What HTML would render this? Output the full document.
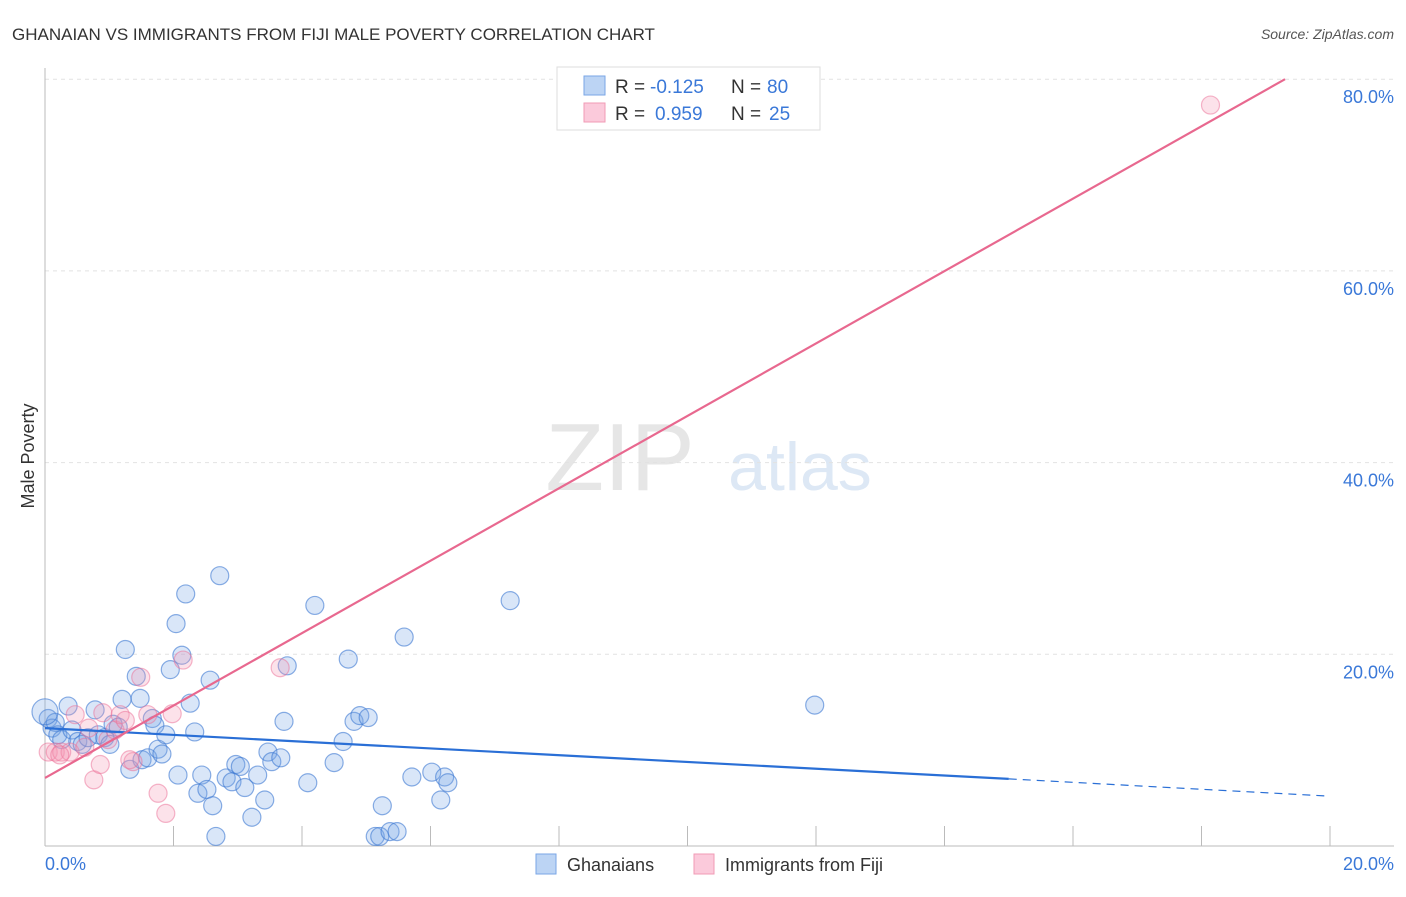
<!DOCTYPE html>
<html><head><meta charset="utf-8"><style>
body{margin:0;background:#fff;font-family:"Liberation Sans",sans-serif;}
svg text{font-family:"Liberation Sans",sans-serif;}
</style></head><body>
<svg width="1406" height="892" xmlns="http://www.w3.org/2000/svg">
<text x="12" y="40" font-size="17" fill="#333">GHANAIAN VS IMMIGRANTS FROM FIJI MALE POVERTY CORRELATION CHART</text>
<text x="1394" y="39" font-size="14" fill="#555" font-style="italic" text-anchor="end">Source: ZipAtlas.com</text>
<text x="620" y="490" font-size="96" fill="#e6e6e6" font-family="Liberation Serif" text-anchor="middle">ZIP</text>
<text x="800" y="490" font-size="68" fill="#dde8f5" text-anchor="middle">atlas</text>
<g id="grid"></g>
<g id="axes"></g>
<g id="pts"></g>
<g id="lines"></g>
<text transform="translate(34,456) rotate(-90)" font-size="18" fill="#333" text-anchor="middle">Male Poverty</text>
<text x="45" y="870" font-size="18" fill="#3a78d8">0.0%</text>
<text x="1394" y="870" font-size="18" fill="#3a78d8" text-anchor="end">20.0%</text>
<g>
<rect x="557" y="67" width="263" height="63" fill="#fff" stroke="#ddd"/>
<rect x="584" y="76" width="21" height="19" fill="#bcd4f4" stroke="#7aa6e6"/>
<rect x="584" y="103" width="21" height="19" fill="#fbcadb" stroke="#f09bb6"/>
<text x="615" y="93" font-size="19" fill="#333">R =</text>
<text x="650" y="93" font-size="19" fill="#3a78d8">-0.125</text>
<text x="731" y="93" font-size="19" fill="#333">N =</text>
<text x="767" y="93" font-size="19" fill="#3a78d8">80</text>
<text x="615" y="120" font-size="19" fill="#333">R =</text>
<text x="655" y="120" font-size="19" fill="#3a78d8">0.959</text>
<text x="731" y="120" font-size="19" fill="#333">N =</text>
<text x="769" y="120" font-size="19" fill="#3a78d8">25</text>
</g>
<g>
<rect x="536" y="854" width="20" height="20" fill="#bcd4f4" stroke="#7aa6e6"/>
<text x="567" y="871" font-size="18" fill="#333">Ghanaians</text>
<rect x="694" y="854" width="20" height="20" fill="#fbcadb" stroke="#f09bb6"/>
<text x="725" y="871" font-size="18" fill="#333">Immigrants from Fiji</text>
</g>
</svg>
<script>
const yTicks=[20,40,60,80];
const xTicks=[0,2,4,6,8,10,12,14,16,18,20];
const blueX=[0.05,0.11,0.16,0.2,0.26,0.36,0.42,0.51,0.58,0.67,0.78,0.83,0.93,1.01,1.06,1.14,1.2,1.25,1.32,1.42,1.48,1.51,1.6,1.67,1.71,1.76,1.82,1.88,1.95,2.04,2.07,2.13,2.19,2.26,2.33,2.38,2.44,2.52,2.57,2.61,2.66,2.72,2.82,2.91,2.97,3.04,3.11,3.22,3.31,3.42,3.47,3.53,3.67,3.72,3.77,4.09,4.2,4.5,4.64,4.72,4.81,4.9,5.03,5.14,5.21,5.25,5.37,5.48,5.59,5.71,6.02,6.16,6.22,6.27,7.24,11.98,0.0];
const blueY=[13.3,12.3,12.9,11.6,11.1,14.6,12.1,10.9,10.6,11.3,14.2,11.6,11.3,10.6,12.7,12.4,15.3,20.5,8.0,17.7,15.4,9.0,9.2,13.3,12.6,10.1,9.6,11.6,18.4,23.2,7.4,19.9,26.3,14.9,11.9,5.5,7.4,5.9,17.3,4.2,1.0,28.2,7.1,6.7,8.5,8.3,6.1,3.0,7.4,4.8,9.8,8.8,9.2,13.0,18.8,6.6,25.1,8.7,10.9,19.5,13.0,13.6,13.4,1.0,1.0,4.2,1.5,1.5,21.8,7.2,7.7,4.8,7.2,6.6,25.6,14.7,14.0];
const pinkX=[18.14,0.05,0.16,0.26,0.39,0.47,0.62,0.76,0.86,0.98,1.09,1.17,1.25,1.37,1.49,1.6,1.76,1.88,1.98,2.15,3.66,0.68,0.9,0.23,1.32];
const pinkY=[77.3,9.8,9.8,9.8,9.8,13.7,10.3,6.9,8.5,11.1,12.1,13.7,13.1,8.8,17.6,13.7,5.5,3.4,13.8,19.4,18.6,12.3,13.9,9.5,9.0];
const blueLine=[[0,12.3],[15,7.0],[20,5.2]];
const pinkLine=[[0,7.1],[19.3,80]];
const X=v=>45+v/20*1285, Y=v=>846-v/20*191.7;
const NS='http://www.w3.org/2000/svg';
function mk(p,t,a){const e=document.createElementNS(NS,t);for(const k in a)e.setAttribute(k,a[k]);p.appendChild(e);return e;}
const grid=document.getElementById('grid'),axes=document.getElementById('axes'),pts=document.getElementById('pts'),lines=document.getElementById('lines');
yTicks.forEach(t=>{const l=mk(grid,'line',{x1:45,x2:1394,y1:Y(t),y2:Y(t),stroke:'#e2e2e2','stroke-dasharray':'4,4'});


const tx=mk(grid,'text',{x:1394,y:Y(t)+24,'font-size':18,fill:'#3a78d8','text-anchor':'end'});tx.textContent=t.toFixed(1)+'%';

});
const ax=mk(axes,'line',{x1:45,x2:45,y1:68,y2:846,stroke:'#bbb'});


const bx=mk(axes,'line',{x1:45,x2:1394,y1:846,y2:846,stroke:'#bbb'});


xTicks.forEach(t=>{const l=mk(axes,'line',{x1:X(t),x2:X(t),y1:826,y2:846,stroke:'#bbb'});

});
blueX.forEach((v,i)=>{const c=mk(pts,'circle',{cx:X(v),cy:Y(blueY[i]),r:i==blueX.length-1?13:9,fill:'rgba(120,166,230,0.28)',stroke:'rgba(60,120,210,0.6)','stroke-width':1.2});

});
pinkX.forEach((v,i)=>{const c=mk(pts,'circle',{cx:X(v),cy:Y(pinkY[i]),r:9,fill:'rgba(244,150,180,0.28)',stroke:'rgba(235,110,150,0.5)','stroke-width':1.2});

});
const b1=mk(lines,'line',{x1:X(blueLine[0][0]),y1:Y(blueLine[0][1]),x2:X(blueLine[1][0]),y2:Y(blueLine[1][1]),stroke:'#2a6fd6','stroke-width':2.2});


const b2=mk(lines,'line',{x1:X(blueLine[1][0]),y1:Y(blueLine[1][1]),x2:X(blueLine[2][0]),y2:Y(blueLine[2][1]),stroke:'#2a6fd6','stroke-width':1.2,'stroke-dasharray':'8,6'});


const p1=mk(lines,'line',{x1:X(pinkLine[0][0]),y1:Y(pinkLine[0][1]),x2:X(pinkLine[1][0]),y2:Y(pinkLine[1][1]),stroke:'#e8688f','stroke-width':2.2});


</script>
</body></html>
